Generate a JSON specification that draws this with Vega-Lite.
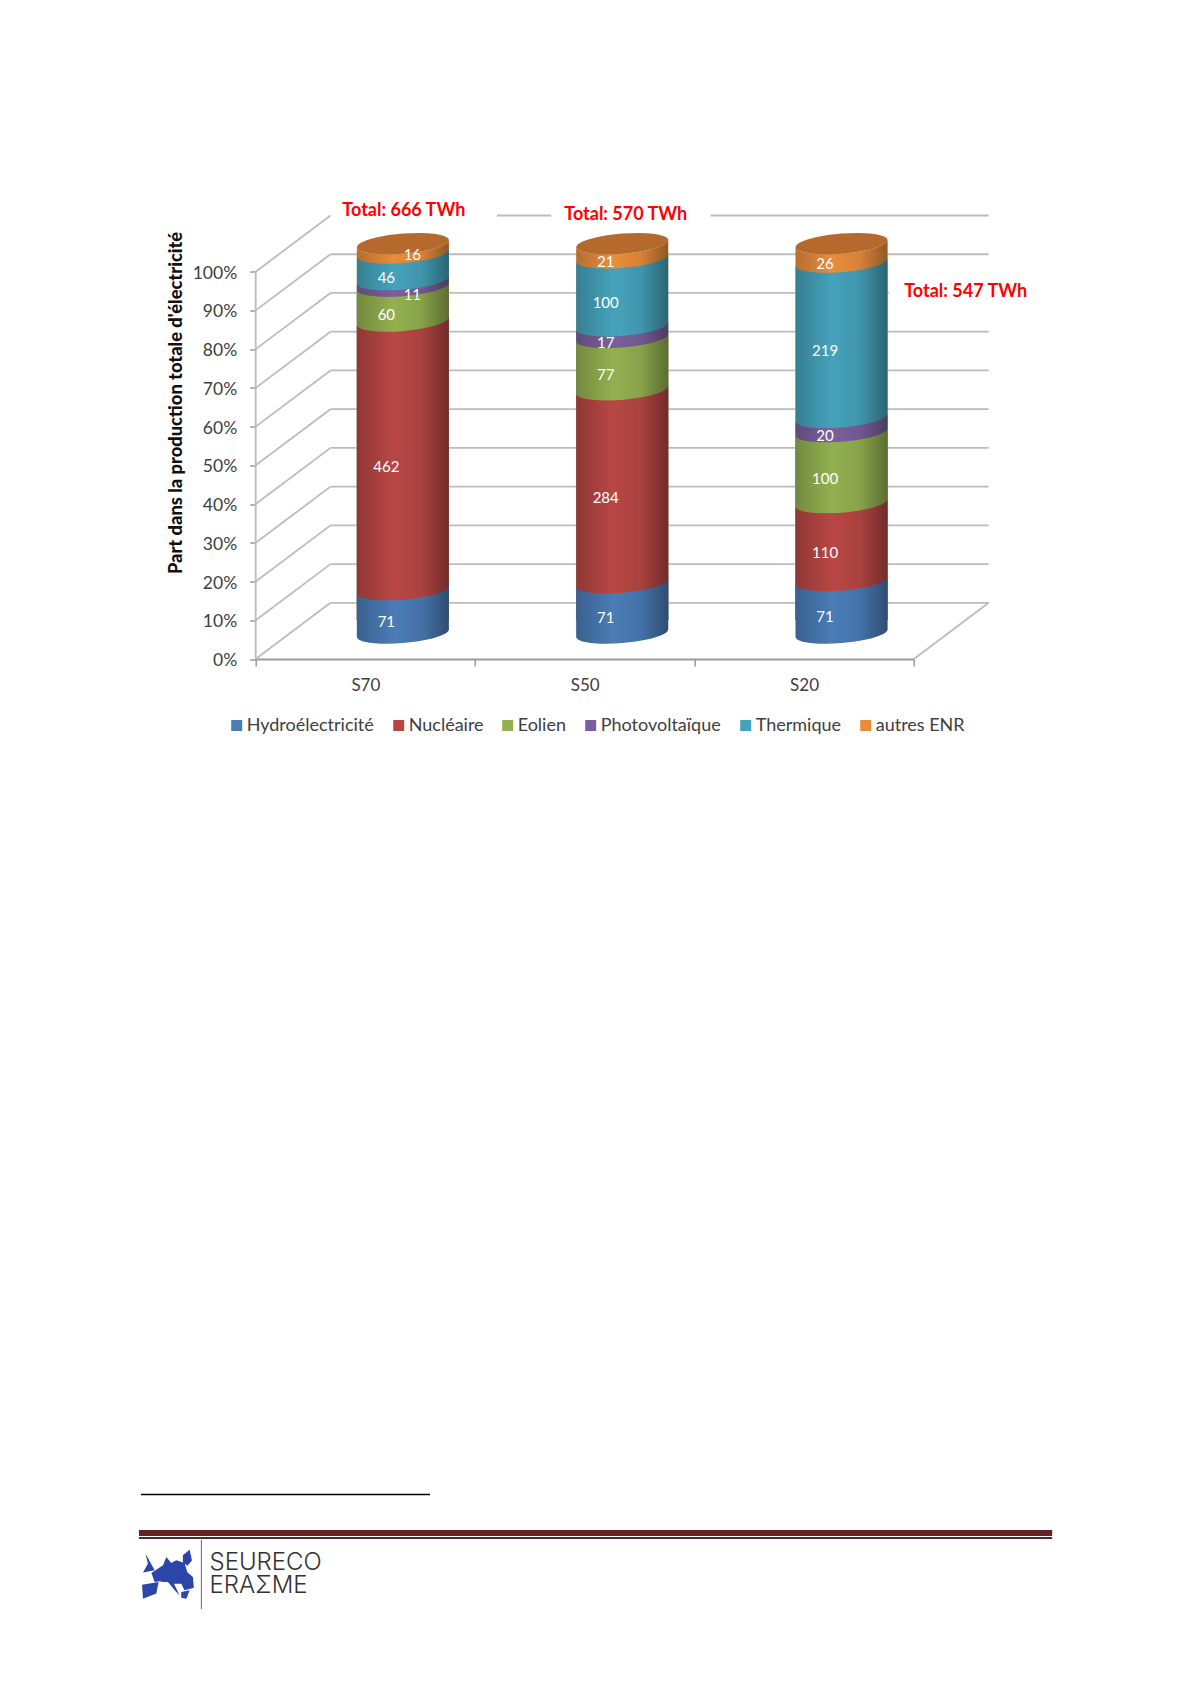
{
"$schema":"https://vega.github.io/schema/vega-lite/v6.json",
"width":733,"height":443.5,
"autosize":{"type":"none"},
"padding":{"left":255.7,"top":215.5,"right":201.3,"bottom":1025},
"background":"white",
"config":{"view":{"stroke":null},"font":"Lato"},
"datasets":{
"segments":[
{"scenario":"S70","source":"autres ENR","rank":6,"twh":16,"top":1.0,"mid":0.988},
{"scenario":"S70","source":"Thermique","rank":5,"twh":46,"top":0.976,"mid":0.9414},
{"scenario":"S70","source":"Photovoltaïque","rank":4,"twh":11,"top":0.9069,"mid":0.8986},
{"scenario":"S70","source":"Eolien","rank":3,"twh":60,"top":0.8904,"mid":0.8453},
{"scenario":"S70","source":"Nucléaire","rank":2,"twh":462,"top":0.8003,"mid":0.4535},
{"scenario":"S70","source":"Hydroélectricité","rank":1,"twh":71,"top":0.1066,"mid":0.0533},
{"scenario":"S50","source":"autres ENR","rank":6,"twh":21,"top":1.0,"mid":0.9816},
{"scenario":"S50","source":"Thermique","rank":5,"twh":100,"top":0.9632,"mid":0.8754},
{"scenario":"S50","source":"Photovoltaïque","rank":4,"twh":17,"top":0.7877,"mid":0.7728},
{"scenario":"S50","source":"Eolien","rank":3,"twh":77,"top":0.7579,"mid":0.6904},
{"scenario":"S50","source":"Nucléaire","rank":2,"twh":284,"top":0.6228,"mid":0.3737},
{"scenario":"S50","source":"Hydroélectricité","rank":1,"twh":71,"top":0.1246,"mid":0.0623},
{"scenario":"S20","source":"autres ENR","rank":6,"twh":26,"top":1.0,"mid":0.9762},
{"scenario":"S20","source":"Thermique","rank":5,"twh":219,"top":0.9524,"mid":0.7518},
{"scenario":"S20","source":"Photovoltaïque","rank":4,"twh":20,"top":0.5513,"mid":0.533},
{"scenario":"S20","source":"Eolien","rank":3,"twh":100,"top":0.5147,"mid":0.4231},
{"scenario":"S20","source":"Nucléaire","rank":2,"twh":110,"top":0.3315,"mid":0.2308},
{"scenario":"S20","source":"Hydroélectricité","rank":1,"twh":71,"top":0.13,"mid":0.065}
],
"walls":[
{"x0":0,"x1":0,"y0":0,"y1":1},
{"x0":0,"x1":0.1136,"y0":0,"y1":0.145},
{"x0":0,"x1":0.1136,"y0":0.1,"y1":0.245},
{"x0":0,"x1":0.1136,"y0":0.2,"y1":0.345},
{"x0":0,"x1":0.1136,"y0":0.3,"y1":0.445},
{"x0":0,"x1":0.1136,"y0":0.4,"y1":0.545},
{"x0":0,"x1":0.1136,"y0":0.5,"y1":0.645},
{"x0":0,"x1":0.1136,"y0":0.6,"y1":0.745},
{"x0":0,"x1":0.1136,"y0":0.7,"y1":0.845},
{"x0":0,"x1":0.1136,"y0":0.8,"y1":0.945},
{"x0":0,"x1":0.1136,"y0":0.9,"y1":1.045},
{"x0":0,"x1":0.1136,"y0":1.0,"y1":1.145},
{"x0":1.0,"x1":1.1136,"y0":0,"y1":0.145},
{"x0":0.1136,"x1":1.1136,"y0":0.145,"y1":0.145},
{"x0":0.1136,"x1":1.1136,"y0":0.245,"y1":0.245},
{"x0":0.1136,"x1":1.1136,"y0":0.345,"y1":0.345},
{"x0":0.1136,"x1":1.1136,"y0":0.445,"y1":0.445},
{"x0":0.1136,"x1":1.1136,"y0":0.545,"y1":0.545},
{"x0":0.1136,"x1":1.1136,"y0":0.645,"y1":0.645},
{"x0":0.1136,"x1":1.1136,"y0":0.745,"y1":0.745},
{"x0":0.1136,"x1":1.1136,"y0":0.845,"y1":0.845},
{"x0":0.1136,"x1":0.962,"y0":0.945,"y1":0.945},
{"x0":0.1136,"x1":1.1136,"y0":1.045,"y1":1.045},
{"x0":0.3665,"x1":0.449,"y0":1.145,"y1":1.145},
{"x0":0.691,"x1":1.1136,"y0":1.145,"y1":1.145}
],
"totals":[
{"label":"Total: 666 TWh","x":0.2251,"y":1.1567},
{"label":"Total: 570 TWh","x":0.5622,"y":1.1464},
{"label":"Total: 547 TWh","x":1.0787,"y":0.9476}
]
},
"layer":[
{"layer":[
{"data":{"name":"walls"},
 "mark":{"type":"rule","color":"#bcbcbc","strokeWidth":1.8},
 "encoding":{
  "x":{"field":"x0","type":"quantitative","scale":{"domain":[0,1.1136],"nice":false,"zero":false},"axis":null},
  "x2":{"field":"x1"},
  "y":{"field":"y0","type":"quantitative","scale":{"domain":[0,1.145],"nice":false,"zero":false},
   "axis":{"values":[0,0.1,0.2,0.3,0.4,0.5,0.6,0.7,0.8,0.9,1],"format":".0%","grid":false,"domain":false,"tickSize":6,"tickColor":"#9a9a9a","tickWidth":1.5,"labelFontSize":17.5,"labelColor":"#404040","labelPadding":13,"labelOffset":1.5,"labelFont":"Lato",
    "title":"Part dans la production totale d'électricité","titleFont":"Lato","titleFontSize":18.3,"titleFontWeight":900,"titleColor":"#111111","titleX":-79.5,"titleY":187,"titleAngle":270,"titleBaseline":"middle","titleAlign":"center"}},
  "y2":{"field":"y1"}
 }},
{"data":{"name":"totals"},
 "mark":{"type":"text","color":"#ff0000","fontWeight":"bold","fontSize":18,"font":"Lato","align":"center","baseline":"middle"},
 "encoding":{"text":{"field":"label"},"x":{"field":"x","type":"quantitative"},"y":{"field":"y","type":"quantitative"}}},
{"data":{"values":[{"x0":-0.1743,"x1":0.2649,"y":-2.157}]},
 "mark":{"type":"rule","color":"#000000","strokeWidth":1.5},
 "encoding":{"x":{"field":"x0","type":"quantitative"},"x2":{"field":"x1"},"y":{"field":"y","type":"quantitative"}}},
{"data":{"values":[{"x0":-0.1774,"x1":1.21,"y":-2.2567}]},
 "mark":{"type":"rule","color":"#632523","strokeWidth":6},
 "encoding":{"x":{"field":"x0","type":"quantitative"},"x2":{"field":"x1"},"y":{"field":"y","type":"quantitative"}}},
{"data":{"values":[{"x0":-0.1774,"x1":1.21,"y":-2.2696}]},
 "mark":{"type":"rule","color":"#632523","strokeWidth":2},
 "encoding":{"x":{"field":"x0","type":"quantitative"},"x2":{"field":"x1"},"y":{"field":"y","type":"quantitative"}}},
{"data":{"values":[{"x":-0.0825,"y0":-2.2747,"y1":-2.4529}]},
 "mark":{"type":"rule","color":"#666666","strokeWidth":1},
 "encoding":{"x":{"field":"x","type":"quantitative"},"y":{"field":"y0","type":"quantitative"},"y2":{"field":"y1"}}},
{"data":{"values":[{"x":-0.1333,"y":-2.37}]},
 "mark":{"type":"point","filled":true,"opacity":1,"strokeWidth":0,"color":"#2b45a8","size":2178,
  "shape":"M-.96,-1 L-.57,-.29 L-1.07,-.19 L-.86,-.57Z M-1.11,.33 L-.4,.22 L-.5,.71 L-1.07,.93Z M-.71,-.17 L-.21,-.5 L-.07,-.86 L.14,-.6 L.36,-.72 L.71,-.6 L.83,-.2 L1.07,0 L1.11,.46 L.71,.57 L.57,.29 L.26,.29 L.5,.79 L.29,.57 L0,.21 L-.21,.21 L-.36,.18 L-.57,.21Z M.64,-.93 L.93,-1.17 L1.03,-.71 L.83,-.48 L.64,-.64Z M.57,.64 L.93,.57 L.79,.93 L.57,.89Z"},
 "encoding":{"x":{"field":"x","type":"quantitative"},"y":{"field":"y","type":"quantitative"}}},
{"data":{"values":[{"t":"SEURECO","x":-0.0702,"y":-2.3342},{"t":"ERAΣME","x":-0.0702,"y":-2.3935}]},
 "mark":{"type":"text","color":"#333333","fontSize":24,"font":"Inter","fontWeight":300,"align":"left","baseline":"middle"},
 "encoding":{"text":{"field":"t"},"x":{"field":"x","type":"quantitative"},"y":{"field":"y","type":"quantitative"}}}
]},
{"data":{"name":"segments"},
 "encoding":{
  "x":{"field":"scenario","type":"nominal","scale":{"type":"band","domain":["S70","S50","S20"],"range":[0,658],"paddingInner":0,"paddingOuter":0},
   "axis":{"orient":"bottom","title":null,"labelAngle":0,"tickBand":"extent","tickSize":7,"tickColor":"#9a9a9a","tickWidth":1.5,"domainColor":"#9a9a9a","domainWidth":2,"labelFontSize":17,"labelColor":"#404040","labelFont":"Lato","labelPadding":11}}
 },
 "layer":[
 {"mark":{"type":"bar","width":92,"xOffset":37.5,"yOffset":-17,"y2Offset":-39},
  "encoding":{
   "y":{"field":"top","type":"quantitative","stack":null},
   "y2":{"datum":0},
   "order":{"field":"rank","sort":"descending"},
   "color":{"field":"source","type":"nominal",
    "scale":{"domain":["Hydroélectricité","Nucléaire","Eolien","Photovoltaïque","Thermique","autres ENR"],
     "range":["#4a7cb6","#b84744","#93b050","#7b5f9c","#45a2bb","#e88d3c"]},
    "legend":{"title":null,"orient":"none","legendX":-28,"legendY":501,"direction":"horizontal","columns":6,"columnPadding":15,"symbolType":"square","symbolSize":121,"symbolStrokeWidth":0,"labelFontSize":18,"labelFont":"Lato","labelColor":"#404040","labelOffset":1,"labelLimit":200,"symbolOffset":0,"padding":0}}
  }},
 {"mark":{"type":"point","filled":true,"opacity":1,"strokeWidth":0,"size":8464,"xOffset":37.5,"yOffset":-28,
   "shape":"M1,-.08 C1,.0415 .552,.176 0,.22 C-.552,.264 -1,.2015 -1,.08 L-1,.26 L1,.26Z"},
  "encoding":{
   "y":{"field":"top","type":"quantitative"},
   "order":{"field":"rank","sort":"descending"},
   "color":{"field":"source","type":"nominal"}
  }},
 {"transform":[{"filter":"datum.rank == 1"}],
  "mark":{"type":"point","filled":true,"opacity":1,"strokeWidth":0,"size":8464,"xOffset":37.5,"yOffset":-26,
   "shape":"M1,-.3 L1,-.08 C1,.0415 .552,.176 0,.22 C-.552,.264 -1,.2015 -1,.08 L-1,-.3Z"},
  "encoding":{"y":{"datum":0,"type":"quantitative"},"color":{"field":"source","type":"nominal"}}},
 {"transform":[{"filter":"datum.rank == 6"}],
  "mark":{"type":"bar","width":92,"xOffset":37.5,"yOffset":-17,"y2Offset":-39,
   "color":{"gradient":"linear","x1":0,"x2":1,"y1":0,"y2":0,"stops":[{"offset":0,"color":"rgba(0,0,0,0.22)"},{"offset":0.4,"color":"rgba(0,0,0,0)"},{"offset":0.7,"color":"rgba(0,0,0,0.08)"},{"offset":1,"color":"rgba(0,0,0,0.38)"}]}},
  "encoding":{"y":{"field":"top","type":"quantitative","stack":null},"y2":{"datum":0}}},
 {"transform":[{"filter":"datum.rank == 6"}],
  "mark":{"type":"point","filled":true,"opacity":1,"strokeWidth":0,"size":8464,"xOffset":37.5,"yOffset":-28,
   "color":{"gradient":"linear","x1":0,"x2":1,"y1":0,"y2":0,"stops":[{"offset":0,"color":"rgba(0,0,0,0.22)"},{"offset":0.4,"color":"rgba(0,0,0,0)"},{"offset":0.7,"color":"rgba(0,0,0,0.08)"},{"offset":1,"color":"rgba(0,0,0,0.38)"}]},
   "shape":"M1,-.08 C1,.0415 .552,.176 0,.22 C-.552,.264 -1,.2015 -1,.08 L-1,.2391 L1,.2391Z"},
  "encoding":{"y":{"field":"top","type":"quantitative"}}},
 {"transform":[{"filter":"datum.rank == 1"}],
  "mark":{"type":"point","filled":true,"opacity":1,"strokeWidth":0,"size":8464,"xOffset":37.5,"yOffset":-26,
   "color":{"gradient":"linear","x1":0,"x2":1,"y1":0,"y2":0,"stops":[{"offset":0,"color":"rgba(0,0,0,0.22)"},{"offset":0.4,"color":"rgba(0,0,0,0)"},{"offset":0.7,"color":"rgba(0,0,0,0.08)"},{"offset":1,"color":"rgba(0,0,0,0.38)"}]},
   "shape":"M1,-.2826 L1,-.08 C1,.0415 .552,.176 0,.22 C-.552,.264 -1,.2015 -1,.08 L-1,-.2826Z"},
  "encoding":{"y":{"datum":0,"type":"quantitative"}}},
 {"transform":[{"filter":"datum.rank == 6"}],
  "mark":{"type":"point","filled":true,"opacity":1,"strokeWidth":0,"size":8464,"xOffset":37.5,"yOffset":-28,"color":"#b5692c",
   "shape":"M1,-.08 C1,.0415 .552,.176 0,.22 C-.552,.264 -1,.2015 -1,.08 C-1,-.0415 -.552,-.176 0,-.22 C.552,-.264 1,-.2015 1,-.08Z"},
  "encoding":{"y":{"field":"top","type":"quantitative"}}},
 {"transform":[{"filter":"!(datum.scenario == 'S70' && datum.twh < 20)"}],
  "mark":{"type":"text","color":"#ffffff","fontSize":15,"font":"Lato","xOffset":21,"yOffset":-16.5,"align":"center","baseline":"middle"},
  "encoding":{"y":{"field":"mid","type":"quantitative"},"text":{"field":"twh","type":"quantitative"}}},
 {"transform":[{"filter":"datum.scenario == 'S70' && datum.twh == 16"}],
  "mark":{"type":"text","color":"#ffffff","fontSize":15,"font":"Lato","xOffset":47,"yOffset":-21,"align":"center","baseline":"middle"},
  "encoding":{"y":{"field":"mid","type":"quantitative"},"text":{"field":"twh","type":"quantitative"}}},
 {"transform":[{"filter":"datum.scenario == 'S70' && datum.twh == 11"}],
  "mark":{"type":"text","color":"#ffffff","fontSize":15,"font":"Lato","xOffset":47,"yOffset":-16,"align":"center","baseline":"middle"},
  "encoding":{"y":{"field":"mid","type":"quantitative"},"text":{"field":"twh","type":"quantitative"}}}
 ]}
],
"resolve":{"scale":{"x":"independent"},"axis":{"x":"independent"}}
}
